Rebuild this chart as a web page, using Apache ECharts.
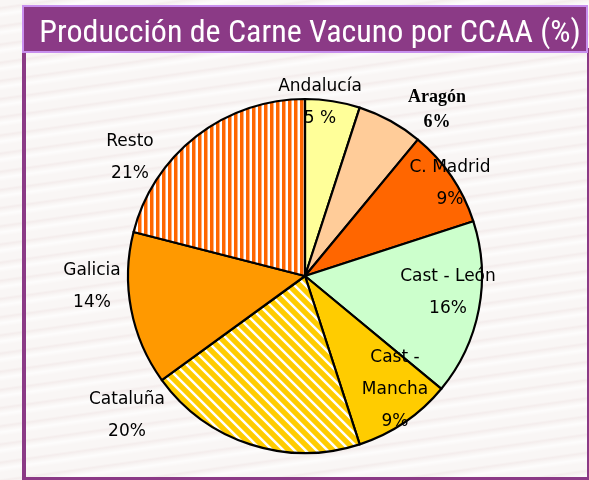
<!DOCTYPE html>
<html>
<head>
<meta charset="utf-8">
<script src="https://cdn.jsdelivr.net/npm/echarts@6/dist/echarts.min.js"></script>
<style>
html,body{margin:0;padding:0;}
body{
  width:589px;height:480px;overflow:hidden;
  background-color:#f9f6f5;
  background-image:
    repeating-linear-gradient(172deg, rgba(255,255,255,0) 0px, rgba(255,255,255,0) 6px, rgba(238,226,226,0.45) 8px, rgba(255,255,255,0) 11px, rgba(255,255,255,0.7) 14px, rgba(255,255,255,0) 18px);
}
#chart{width:589px;height:480px;}
</style>
</head>
<body>
<div id="chart"></div>
<script>
// ---- data ----
var categories = ['Andalucía','Aragón','C. Madrid','Cast - León','Cast - Mancha','Cataluña','Galicia','Resto'];
var values = [5, 6, 9, 16, 9, 20, 14, 21];
var nameLabels = ['Andalucía','Aragón','C. Madrid','Cast - León','Cast -\nMancha','Cataluña','Galicia','Resto'];
var percentLabels = ['5 %','6%','9%','16%','9%','20%','14%','21%'];

// ---- label placement (pixel centres of each label block) ----
var labelPos = [[320,103],[437,110],[450,184],[448,293],[395,390],[127,416],[92,287],[130,158]];

// ---- patterns ----
function stripePattern(w, h, fg, bg, test) {
  var c = document.createElement('canvas');
  c.width = w; c.height = h;
  var ctx = c.getContext('2d');
  ctx.fillStyle = bg; ctx.fillRect(0, 0, w, h);
  ctx.fillStyle = fg;
  var ss = 4;
  for (var y = 0; y < h; y++) {
    for (var x = 0; x < w; x++) {
      var cov = 0;
      for (var sy = 0; sy < ss; sy++) for (var sx = 0; sx < ss; sx++) {
        if (test(x + (sx + 0.5) / ss, y + (sy + 0.5) / ss)) cov++;
      }
      cov /= ss * ss;
      if (cov > 0) { ctx.globalAlpha = cov; ctx.fillRect(x, y, 1, 1); }
    }
  }
  ctx.globalAlpha = 1;
  return c;
}
var vertStripes = stripePattern(6, 6, '#ff6600', '#ffffff', function (x, y) { return x < 3.5; });
var diagStripes = stripePattern(11, 11, '#ffcc00', '#ffffff', function (x, y) {
  var t = ((x - y) % 11 + 11) % 11; return t < 7.3;
});

var colors = ['#ffff99', '#ffcc99', '#ff6600', '#ccffcc', '#ffcc00',
  { image: diagStripes, repeat: 'repeat' }, '#ff9900', { image: vertStripes, repeat: 'repeat' }];

var data = categories.map(function (c, i) {
  var lbl = {
    formatter: nameLabels[i] + '\n' + percentLabels[i]
  };
  if (i === 1) {
    lbl.fontFamily = '"Liberation Serif", "DejaVu Serif", serif';
    lbl.fontWeight = 'bold';
    lbl.fontSize = 18;
    lbl.lineHeight = 25;
  }
  return { name: c, value: values[i], itemStyle: { color: colors[i] }, label: lbl };
});

var chart = echarts.init(document.getElementById('chart'), null, { renderer: 'canvas' });
chart.setOption({
  animation: false,
  graphic: [
    { type: 'rect', z: 0, shape: { x: 24, y: 50, width: 565, height: 429 },
      style: { fill: 'none', stroke: '#8b3a86', lineWidth: 4 } },
    { type: 'rect', z: 1, shape: { x: 23, y: 6, width: 564, height: 46 },
      style: { fill: '#8b3a86', stroke: '#c890ee', lineWidth: 2 } }
  ],
  title: {
    text: 'Producción de Carne Vacuno por CCAA (%)',
    left: 305, top: 29, textAlign: 'center', textVerticalAlign: 'middle',
    z: 10,
    textStyle: {
      color: '#ffffff', fontSize: 32, fontWeight: 'normal',
      fontFamily: '"Liberation Sans Narrow", "Roboto Condensed", "Liberation Sans", sans-serif'
    }
  },
  series: [{
    type: 'pie',
    center: [305, 276],
    radius: 177,
    startAngle: 90,
    clockwise: true,
    avoidLabelOverlap: false,
    silent: true,
    itemStyle: { borderColor: '#000', borderWidth: 2.2 },
    label: {
      show: true, position: 'inside',
      color: '#000', fontSize: 17, lineHeight: 32,
      fontFamily: '"DejaVu Sans", Verdana, sans-serif',
      align: 'center'
    },
    labelLine: { show: false },
    labelLayout: function (p) {
      var q = labelPos[p.dataIndex];
      return { x: q[0], y: q[1], align: 'center', verticalAlign: 'middle' };
    },
    data: data
  }]
});
</script>
</body>
</html>
